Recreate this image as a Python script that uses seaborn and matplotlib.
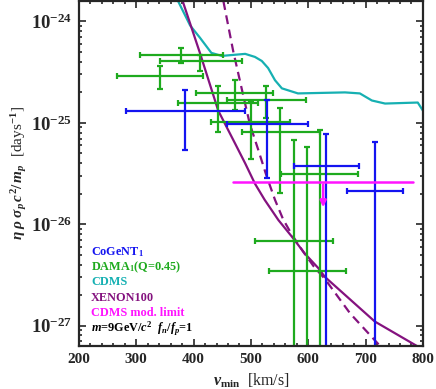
import numpy as np
import pandas as pd
import seaborn as sns
import matplotlib.pyplot as plt
from matplotlib.ticker import MultipleLocator, LogLocator, NullFormatter, FixedLocator

# DAMA_1 (Q=0.45): centre, energy-bin edges, error bounds
dama_v = [378, 412, 341, 473, 527, 443, 500, 551, 620, 575, 598]
dama_vlo = [306, 341, 267, 404, 458, 373, 431, 484, 552, 507, 531]
dama_vhi = [451, 484, 416, 539, 596, 513, 568, 620, 687, 643, 665]
dama_y = [4.71e-25, 4.11e-25, 2.88e-25, 1.96e-25, 1.69e-25, 1.57e-25, 1.02e-25, 8.13e-26, 3.12e-26, 6.81e-27, 3.45e-27]
dama_ylo = [3.90e-25, 3.21e-25, 2.17e-25, 1.33e-25, 1.11e-25, 8.13e-26, 4.36e-26, 2.04e-26, 1e-30, 1e-30, 1e-30]
dama_yhi = [5.48e-25, 4.71e-25, 3.61e-25, 2.65e-25, 2.33e-25, 2.33e-25, 1.64e-25, 1.41e-25, 8.57e-26, 6.84e-26, 5.78e-26]

# CoGeNT_1
cog_v = [385, 528, 631, 716]
cog_vlo = [282, 458, 575, 668]
cog_vhi = [490, 599, 688, 766]
cog_y = [1.32e-25, 9.82e-26, 3.74e-26, 2.12e-26]
cog_ylo = [5.37e-26, 2.83e-26, 1e-30, 1e-30]
cog_yhi = [2.12e-25, 1.66e-25, 7.83e-26, 6.47e-26]

# CDMS modulation limit
mod_vlo, mod_vhi, mod_y = 469, 783, 2.62e-26
mod_arrow_v, mod_arrow_y = 626, 1.38e-26

# CDMS limit
cdms_v = [373, 394, 411, 431, 449, 490, 507, 519, 530, 542, 554, 582, 664, 690, 711, 734, 791, 800]
cdms_logy = [-23.80, -24.04, -24.16, -24.31, -24.34, -24.32, -24.35, -24.39, -24.46, -24.58,
             -24.66, -24.71, -24.70, -24.71, -24.78, -24.81, -24.80, -24.88]

# XENON100 (solid and dashed)
xe_v = [381, 411, 443, 472, 490, 507, 524, 548, 571, 594, 617, 629, 716, 789]
xe_logy = [-23.80, -24.31, -24.88, -25.20, -25.40, -25.60, -25.76, -25.96, -26.12, -26.29,
           -26.43, -26.52, -26.96, -27.20]
xe2_v = [452, 469, 487, 498, 513, 527, 542, 556, 571, 591, 610, 629, 673, 725]
xe2_logy = [-23.80, -24.29, -24.74, -25.01, -25.27, -25.52, -25.76, -25.95, -26.10, -26.27,
            -26.42, -26.54, -26.88, -27.20]

ytick_vals = [1e-27, 1e-26, 1e-25, 1e-24]

blue = "#1414f0"
green = "#1eaa1e"
cyan = "#16b0b2"
purple = "#84127f"
magenta = "#ff14ff"

sns.set_style("ticks")
plt.rcParams['font.family'] = ['Liberation Serif', 'DejaVu Serif']
plt.rcParams['font.weight'] = 'bold'
plt.rcParams['mathtext.fontset'] = 'custom'
plt.rcParams['mathtext.rm'] = 'Liberation Serif:bold'
plt.rcParams['mathtext.bf'] = 'Liberation Serif:bold'
plt.rcParams['mathtext.it'] = 'Liberation Serif:italic:bold'

fig = plt.figure(figsize=(4.36, 3.89), dpi=100)
ax = fig.add_axes([0.181, 0.111, 0.789, 0.886])
ax.set_yscale('log')

cdms = pd.DataFrame({'v': cdms_v, 'y': 10.0 ** np.array(cdms_logy)})
xe = pd.DataFrame({'v': xe_v, 'y': 10.0 ** np.array(xe_logy)})
xe2 = pd.DataFrame({'v': xe2_v, 'y': 10.0 ** np.array(xe2_logy)})
sns.lineplot(data=cdms, x='v', y='y', color=cyan, lw=1.6, ax=ax, sort=False)
sns.lineplot(data=xe, x='v', y='y', color=purple, lw=1.6, ax=ax, sort=False)
sns.lineplot(data=xe2, x='v', y='y', color=purple, lw=1.6, ls=(0, (4, 2.5)), ax=ax, sort=False)


def bars(v, vlo, vhi, y, ylo, yhi, col):
    v, vlo, vhi = np.array(v), np.array(vlo), np.array(vhi)
    y, ylo, yhi = np.array(y), np.array(ylo), np.array(yhi)
    ax.errorbar(v, y, xerr=[v - vlo, vhi - v], yerr=[y - ylo, yhi - y],
                fmt='none', ecolor=col, elinewidth=1.6, capsize=2, capthick=1.6)


bars(dama_v, dama_vlo, dama_vhi, dama_y, dama_ylo, dama_yhi, green)
bars(cog_v, cog_vlo, cog_vhi, cog_y, cog_ylo, cog_yhi, blue)

ax.plot([mod_vlo, mod_vhi], [mod_y, mod_y], color=magenta, lw=1.8)
ax.annotate('', xy=(mod_arrow_v, mod_arrow_y), xytext=(mod_arrow_v, mod_y),
            arrowprops=dict(arrowstyle='-|>', color=magenta, lw=1.8, mutation_scale=9))

ax.set_xlim(200, 800)
ax.set_ylim(10 ** -27.2, 10 ** -23.8)
ax.xaxis.set_major_locator(MultipleLocator(100))
ax.xaxis.set_minor_locator(MultipleLocator(20))
ax.yaxis.set_major_locator(FixedLocator(ytick_vals))
ax.yaxis.set_minor_locator(LogLocator(base=10, subs=np.arange(2, 10), numticks=20))
ax.yaxis.set_minor_formatter(NullFormatter())
ax.tick_params(which='both', direction='in', top=True, right=True, width=1.2)
ax.tick_params(which='major', length=5, pad=5)
ax.tick_params(axis='x', which='major', labelsize=11)
ax.tick_params(axis='y', which='major', labelsize=13.5)
ax.tick_params(which='minor', length=2.5)
for s in ax.spines.values():
    s.set_linewidth(1.6)

ax.set_xlabel(r'$v_{\rm min}$  [km/s]', fontsize=11.5, labelpad=4)
ax.set_ylabel(r'$\eta\;\rho\;\sigma_p\,c^2/\,m_p$  [days$^{-1}$]', fontsize=11, labelpad=1)

labels = [r'CoGeNT$_1$', r'DAMA$_1$(Q=0.45)', 'CDMS', 'XENON100', 'CDMS mod. limit',
          r'$m$=9GeV/$c^2$  $f_n/f_p$=1']
colors = [blue, green, cyan, purple, magenta, 'black']
for i, (t, c) in enumerate(zip(labels, colors)):
    ax.text(0.035, 0.273 - i * 0.0445, t, color=c, fontsize=8.8, fontweight='bold',
            transform=ax.transAxes, va='center', ha='left')

fig.savefig('out.png', dpi=100)
